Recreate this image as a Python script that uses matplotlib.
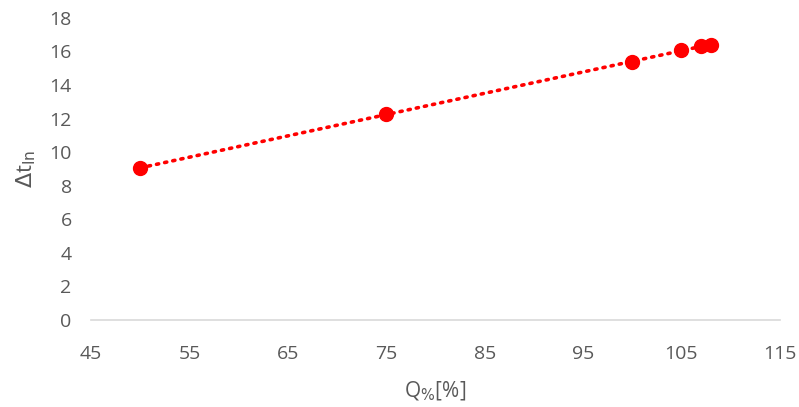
import numpy as np
import matplotlib.pyplot as plt

# datos
q_pct = [50, 75, 100, 105, 107, 108]
dt_ln = [9.05, 12.27, 15.37, 16.07, 16.35, 16.38]

x_ticks = [45, 55, 65, 75, 85, 95, 105, 115]
y_ticks = [0, 2, 4, 6, 8, 10, 12, 14, 16, 18]

plt.rcParams['font.family'] = ['Open Sans', 'DejaVu Sans']

fig = plt.figure(figsize=(7.99, 4.07), dpi=100)
ax = fig.add_axes([0.114, 0.214, 0.862, 0.742])

# linea de tendencia lineal
m, b = np.polyfit(q_pct, dt_ln, 1)
xt = np.array([min(q_pct), max(q_pct)])
ax.plot(xt, m * xt + b, color='red', linestyle=(0, (0.6, 1.7)), linewidth=2.6,
        dash_capstyle='round', zorder=2)

ax.plot(q_pct, dt_ln, 'o', color='red', markersize=10, zorder=3)

ax.set_xlim(45, 115)
ax.set_ylim(0, 18)
ax.set_xticks(x_ticks)
ax.set_yticks(y_ticks)
ax.tick_params(length=0, labelsize=14, labelcolor='#595959')
ax.tick_params(axis='x', pad=18)
ax.tick_params(axis='y', pad=14)

for s in ['top', 'right', 'left']:
    ax.spines[s].set_visible(False)
ax.spines['bottom'].set_color('#d9d9d9')
ax.spines['bottom'].set_linewidth(1.2)

ax.set_xlabel(r'Q$_{\%}$[%]', fontsize=15, color='#595959', labelpad=12)
ax.set_ylabel(r'$\Delta$t$_{\mathrm{ln}}$', fontsize=16, color='#595959', labelpad=8)

fig.savefig('out.png', dpi=100)
